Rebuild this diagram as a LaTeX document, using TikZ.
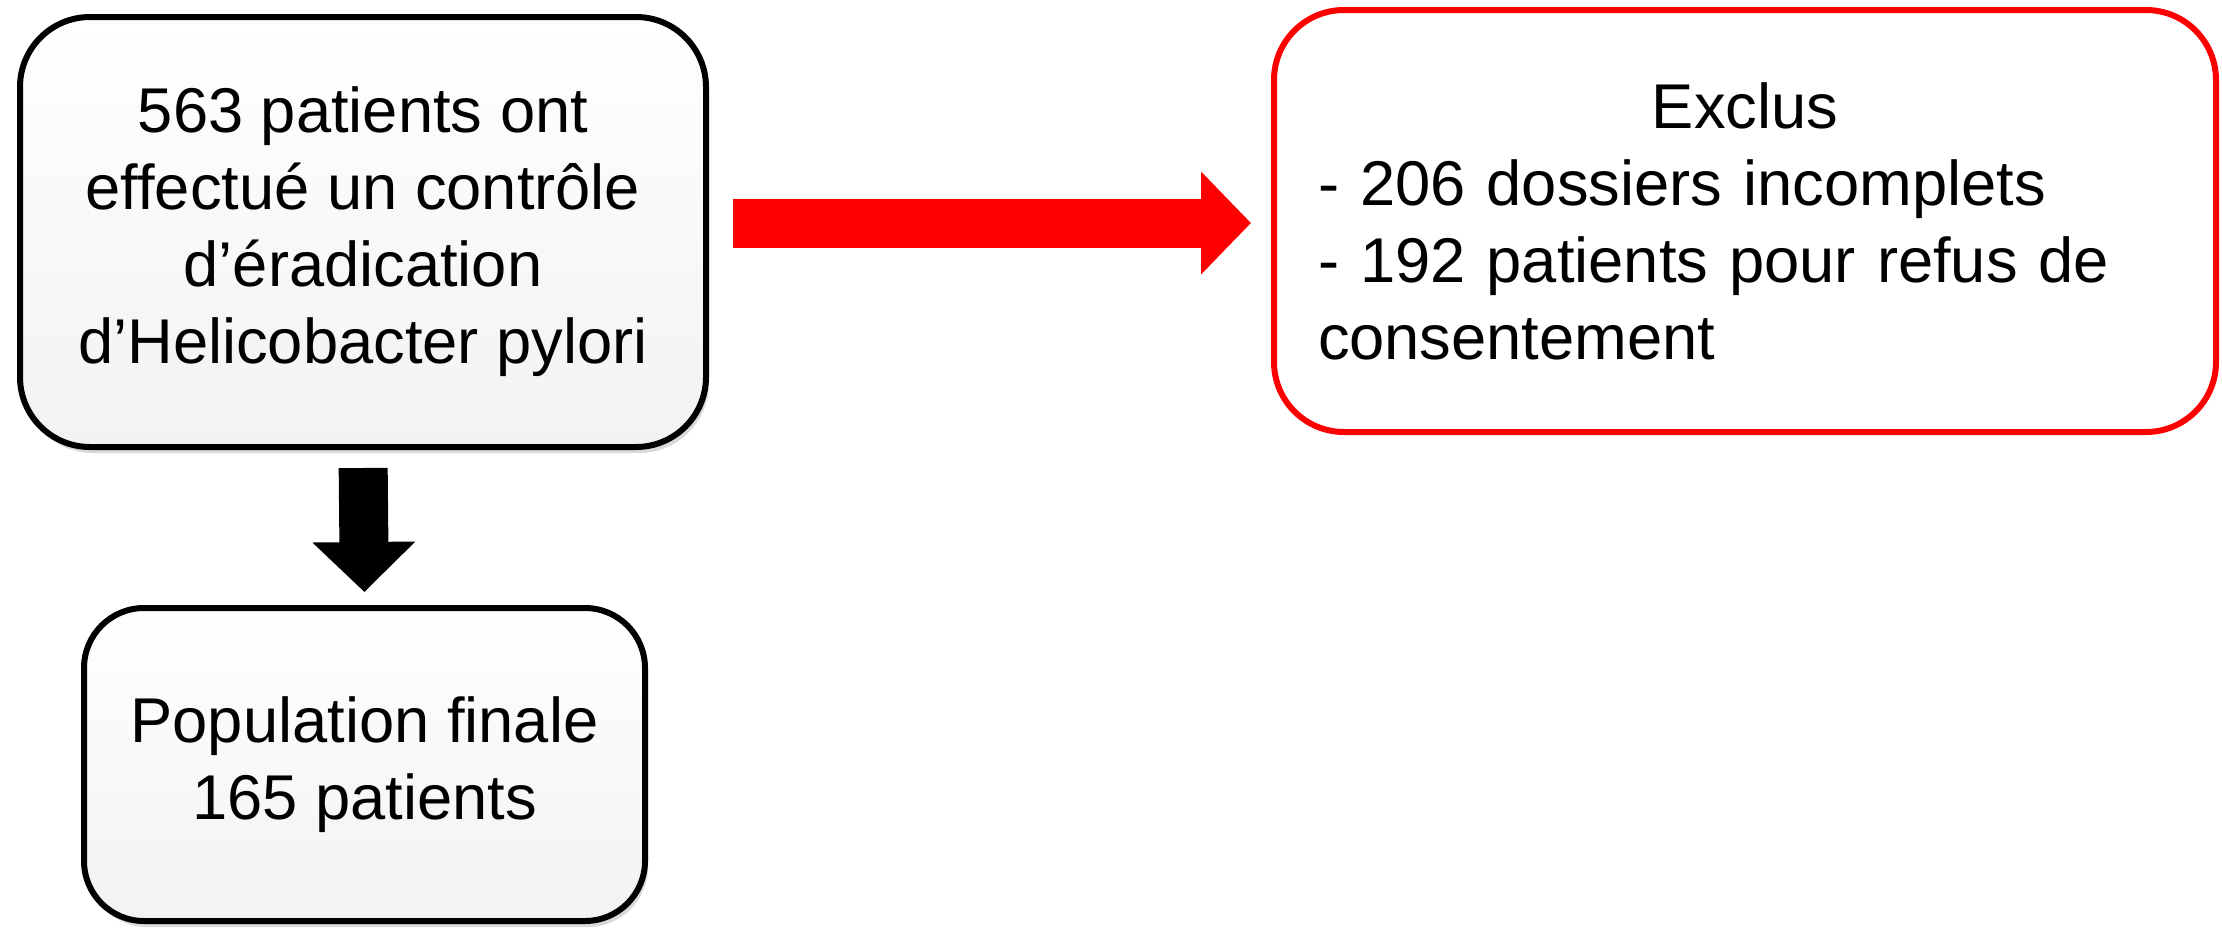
\documentclass[tikz,border=0pt]{standalone}
\usepackage{fontspec}
\setmainfont{Liberation Sans}
\usetikzlibrary{arrows.meta,shadows,positioning}
\tikzset{stage/.style={rectangle, rounded corners=0.7cm, draw=black, line width=0.06cm, top color=white, bottom color=black!5, align=center, drop shadow={shadow xshift=0.03cm, shadow yshift=-0.06cm, opacity=0.3}, font=\fontsize{18pt}{21.9pt}\selectfont}}
\tikzset{exclbox/.style={rectangle, rounded corners=0.7cm, draw=red, line width=0.06cm, fill=white, align=left, text width=8.54cm, font=\fontsize{18pt}{21.9pt}\selectfont}}
\tikzset{bigarrow/.style={line width=0.49cm, -{Triangle[length=0.5cm, width=1.0cm]}}}

\begin{document}
\begin{tikzpicture}
	\useasboundingbox (0,0) rectangle (22.22,-9.29);
	\node[stage, minimum width=6.86cm, minimum height=4.30cm] (start) at (3.63,-2.32) {563 patients ont\\effectué un contrôle\\d’éradication\\d’Helicobacter pylori};
	\node[stage, minimum width=5.61cm, minimum height=3.13cm, rounded corners=0.6cm] (final) at (3.645,-7.645) {Population finale\\165 patients};
	\node[exclbox, minimum width=9.42cm, minimum height=4.22cm] (excl) at (17.45,-2.21) {\centering Exclus\par\raggedright - 206 dossiers incomplets\\- 192 patients pour refus de\\consentement};
	\draw[bigarrow, black, shorten <=0.18cm, shorten >=0.13cm] (start.south) -- (final.north);
	\draw[bigarrow, red, shorten <=0.24cm, shorten >=0.2cm] ([yshift=0.09cm]start.east) -- ([yshift=0.09cm]start.east -| excl.west);
\end{tikzpicture}
\end{document}
